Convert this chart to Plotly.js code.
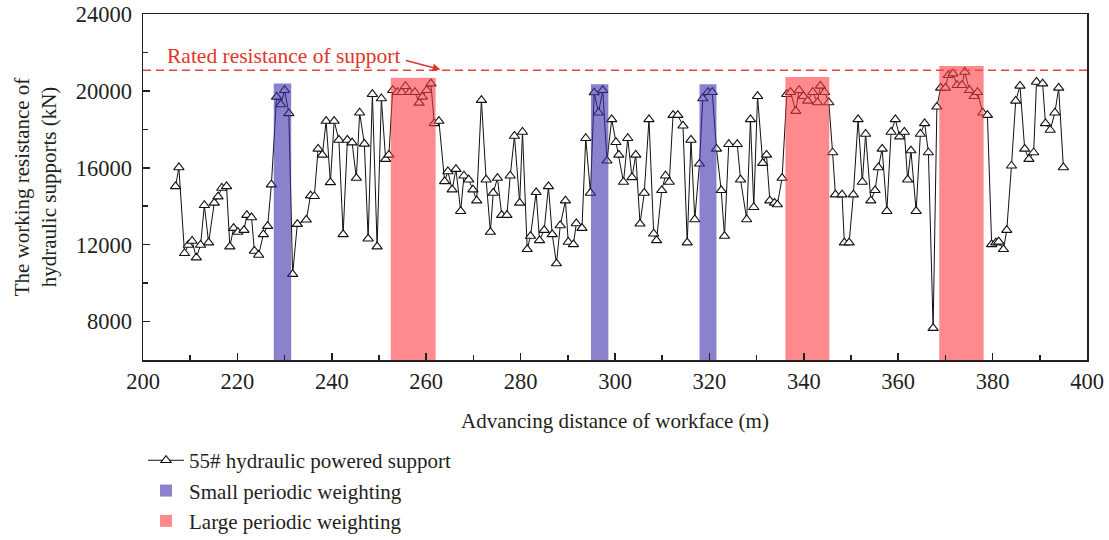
<!DOCTYPE html>
<html>
<head>
<meta charset="utf-8">
<script src="https://cdn.plot.ly/plotly-3.0.1.min.js"></script>
<style>
  html, body { margin: 0; padding: 0; background: #ffffff; }
  #chart { width: 1109px; height: 540px; }
</style>
</head>
<body>
<div id="chart"></div>
<script>
// Advancing distance of the workface (m) for each reading of support 55#
const xDistance = [
  206.9, 207.6, 208.8, 209.6, 210.4, 211.3, 212.2, 213.0, 213.9, 215.1,
  215.9, 216.7, 217.7, 218.4, 219.2, 220.1, 221.4, 222.0, 223.0, 223.6,
  224.5, 225.5, 226.4, 227.2, 228.3, 229.2, 230.0, 230.9, 231.7, 232.7,
  234.6, 235.5, 236.3, 237.1,
  238.0, 238.8, 239.7, 240.5, 241.5, 242.4, 243.3, 244.3, 245.2, 245.9,
  246.9, 247.7, 248.6, 249.6, 250.5, 251.4, 252.1, 252.9, 253.9, 254.8,
  255.6, 256.5, 257.6, 258.5, 259.2, 260.1, 261.0, 261.7, 262.7, 263.9,
  264.6, 265.5, 266.3, 267.3, 268.0, 269.0, 269.9, 270.7, 271.7, 272.7, 273.6,
  274.2, 275.1, 276.0, 277.1, 277.8, 278.7, 279.8, 280.4, 281.4, 282.1,
  283.3, 284.0, 285.0, 285.9, 286.7, 287.6, 288.4, 289.5, 290.1, 291.2,
  291.8, 293.0, 293.8, 294.8, 295.6, 296.5, 297.4, 298.3, 299.3, 300.2,
  300.8, 301.8, 302.7, 303.6, 304.4, 305.3, 306.2, 307.2, 308.2, 308.8,
  309.9, 310.7, 311.5, 312.3, 313.3, 314.4, 315.3, 316.1, 316.9, 317.9,
  318.6, 319.7, 320.6, 321.5, 322.5, 323.2, 324.1, 325.9, 326.6, 327.9,
  328.7, 329.4, 330.2, 331.3, 332.1, 332.8, 333.8, 334.4, 335.4, 336.4,
  337.2, 338.3, 339.0, 339.9, 340.8, 341.9, 342.9, 343.5, 344.4, 345.3,
  346.1, 346.7, 348.1, 348.6, 349.6, 350.5, 351.5, 352.4, 353.1, 354.2,
  355.1, 355.8, 356.6, 357.6, 358.5, 359.4, 360.3, 361.3, 362.0, 362.7,
  363.8, 364.7, 365.6, 366.4, 367.4, 368.2, 369.0, 370.0, 370.6, 371.6,
  372.5, 373.5, 374.1, 375.1, 376.1, 376.8, 377.9, 378.9, 379.8, 380.7,
  381.3, 382.3, 383.0, 384.0, 384.9, 385.8, 386.8, 387.7, 388.7, 389.3,
  390.6, 391.2, 392.2, 393.2, 394.0, 395.0
];

// Working resistance of support 55# (kN)
const resistance = [
  15035, 16017, 11552, 11983, 12190, 11328, 11983, 14052, 12104, 14173,
  14500, 14948, 15035, 11897, 12862, 12656, 12759, 13535, 13414, 11673,
  11466, 12535, 12966, 15121, 19690, 19293, 20034, 18828, 10466, 13069,
  13293, 14552, 14517, 16983,
  16673, 18431, 15242, 18431, 17448, 12535, 17448, 17310, 15466, 18862,
  17241, 12310, 19828, 11897, 19603, 16449, 16673, 20034, 19931, 19931,
  20241, 19931, 19931, 19379, 19690, 20034, 20379, 18310, 18431, 15293,
  15810, 14862, 15931, 13742, 15586, 15379, 14862, 14293, 19517, 15379, 12656,
  14690, 15466, 13535, 13535, 15586, 17655, 14173, 17862, 11759, 12449,
  14724, 12224, 12759, 15035, 12535, 11018, 13000, 14293, 12138, 12017,
  13104, 12862, 17535, 14690, 19914, 18862, 20034, 16362, 18517, 17328,
  16673, 15259, 17535, 15500, 16673, 13086, 14690, 18517, 12569, 12224,
  14828, 15586, 15259, 18741, 18741, 18190, 12104, 17448, 13311, 16207,
  19603, 19931, 19931, 16983, 14828, 12449, 17224, 17224, 15379, 13311,
  18517, 13948, 19724, 16242, 16673, 14293, 14173, 14087, 15466, 19828,
  19931, 18948, 20034, 19724, 19483, 19931, 19397, 20259, 19931, 19397,
  16793, 14604, 14604, 12104, 12104, 14604, 18517, 15259, 17759, 14293,
  14828, 16017, 16983, 13742, 17862, 18517, 17621, 17862, 15379, 16897,
  13742, 17759, 18310, 16793, 7656, 19172, 20155, 20155, 20810, 20897,
  20293, 20293, 20983, 20034, 19724, 19931, 18862, 18741, 12017, 12104,
  12155, 11759, 12759, 16104, 19483, 20259, 16983, 16449, 16793, 20466,
  20379, 18310, 17966, 18862, 20155, 16017
];

// Periodic weighting intervals (m) and the height of each band (kN)
const smallStart = [227.7, 294.9, 317.9];
const smallEnd   = [231.4, 298.6, 321.5];
const smallTop   = [20380, 20350, 20350];

const largeStart = [252.5, 336.1, 368.7];
const largeEnd   = [262.0, 345.4, 378.1];
const largeTop   = [20690, 20720, 21300];

// Rated resistance of the support (kN)
const ratedResistance = 21070;

const xTickValues = [200, 220, 240, 260, 280, 300, 320, 340, 360, 380, 400];
const yTickValues = [8000, 12000, 16000, 20000, 24000];

const FONT = '"Liberation Serif", "Times New Roman", Times, serif';
const INK = '#231f20';
const SIZE = 21;
const TICK_SIZE = 22.5;

const mid = (a, b) => a.map((v, i) => (v + b[i]) / 2);
const span = (a, b) => a.map((v, i) => b[i] - v);

const traces = [
  {
    type: 'scatter',
    mode: 'lines+markers',
    name: '55# hydraulic powered support',
    x: xDistance,
    y: resistance,
    line: { color: '#111111', width: 1 },
    marker: {
      symbol: 'triangle-up',
      size: 9,
      color: '#ffffff',
      line: { color: '#111111', width: 1.1 }
    },
    xaxis: 'x',
    yaxis: 'y'
  },
  {
    type: 'bar',
    name: 'Small periodic weighting',
    x: mid(smallStart, smallEnd),
    y: smallTop,
    width: span(smallStart, smallEnd),
    marker: { color: 'rgba(60,47,170,0.6)', line: { width: 0 } },
    xaxis: 'x2',
    yaxis: 'y2',
    hoverinfo: 'skip'
  },
  {
    type: 'bar',
    name: 'Large periodic weighting',
    x: mid(largeStart, largeEnd),
    y: largeTop,
    width: span(largeStart, largeEnd),
    marker: { color: 'rgba(255,60,67,0.6)', line: { width: 0 } },
    xaxis: 'x2',
    yaxis: 'y2',
    hoverinfo: 'skip'
  }
];

const layout = {
  width: 1109,
  height: 540,
  paper_bgcolor: '#ffffff',
  plot_bgcolor: '#ffffff',
  margin: { l: 143, r: 22, t: 14, b: 180, autoexpand: false },
  font: { family: FONT, size: SIZE, color: INK },
  showlegend: true,
  barmode: 'overlay',
  xaxis: {
    range: [200, 400],
    tickvals: xTickValues,
    tickformat: 'd',
    ticks: 'inside',
    ticklen: 7,
    tickwidth: 1.5,
    tickcolor: INK,
    ticklabelstandoff: 0,
    minor: { dtick: 10, ticks: 'inside', ticklen: 5, tickwidth: 1.5, tickcolor: INK, showgrid: false },
    showline: true,
    linecolor: INK,
    linewidth: 1.5,
    mirror: true,
    showgrid: false,
    zeroline: false,
    tickfont: { family: FONT, size: TICK_SIZE, color: INK },
    title: {
      text: 'Advancing distance of workface (m)',
      font: { family: FONT, size: SIZE, color: INK },
      standoff: 21
    }
  },
  yaxis: {
    range: [6000, 24000],
    tickvals: yTickValues,
    tickformat: 'd',
    ticks: 'inside',
    ticklen: 7,
    tickwidth: 1.5,
    tickcolor: INK,
    ticklabelstandoff: 5,
    minor: { dtick: 2000, ticks: 'inside', ticklen: 5, tickwidth: 1.5, tickcolor: INK, showgrid: false },
    showline: true,
    linecolor: INK,
    linewidth: 1.5,
    mirror: true,
    showgrid: false,
    zeroline: false,
    tickfont: { family: FONT, size: TICK_SIZE, color: INK },
    title: {
      text: 'The working resistance of<br>hydraulic supports (kN)',
      font: { family: FONT, size: SIZE, color: INK },
      standoff: 13
    }
  },
  xaxis2: { overlaying: 'x', anchor: 'y2', range: [200, 400], visible: false, fixedrange: true },
  yaxis2: { overlaying: 'y', anchor: 'x2', range: [6000, 24000], visible: false, fixedrange: true },
  legend: {
    x: 0,
    xanchor: 'left',
    yref: 'container',
    y: 0.185,
    yanchor: 'top',
    orientation: 'v',
    itemwidth: 36,
    bgcolor: 'rgba(0,0,0,0)',
    font: { family: FONT, size: SIZE, color: INK },
    tracegroupgap: 0
  },
  shapes: [
    {
      type: 'line',
      xref: 'paper', x0: 0, x1: 1,
      yref: 'y', y0: ratedResistance, y1: ratedResistance,
      line: { color: '#e8463c', width: 1.4, dash: '8px,5px' },
      layer: 'above'
    }
  ],
  annotations: [
    {
      xref: 'x', yref: 'y',
      x: 204.6, y: 21830,
      xanchor: 'left', yanchor: 'middle',
      text: 'Rated resistance of support',
      showarrow: false,
      font: { family: FONT, size: 21.5, color: '#e0352c' }
    },
    {
      xref: 'x', yref: 'y',
      x: 263.0, y: 21110,
      axref: 'x', ayref: 'y',
      ax: 255.4, ay: 21600,
      text: '',
      showarrow: true,
      arrowhead: 2,
      arrowsize: 1.1,
      arrowwidth: 1.4,
      arrowcolor: '#e0352c'
    }
  ]
};

Plotly.newPlot('chart', traces, layout, { staticPlot: true, displayModeBar: false });
</script>
</body>
</html>
